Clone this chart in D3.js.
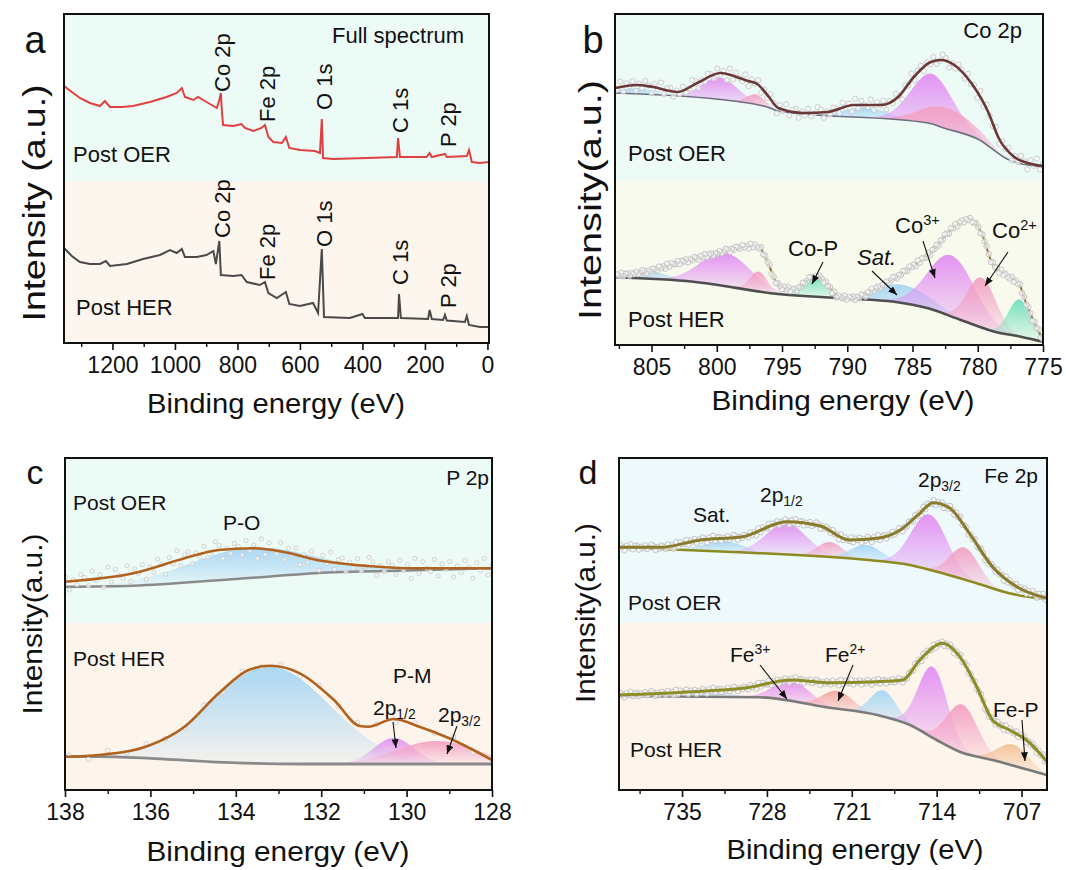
<!DOCTYPE html>
<html lang="en">
<head>
<meta charset="utf-8">
<title>XPS spectra post OER / post HER</title>
<style>
  body { margin: 0; background: #fff; }
  svg text { font-family: "Liberation Sans", Arial, sans-serif; fill: #111; }
</style>
</head>
<body>
<div id="chart"></div>
<script src="https://d3js.org/d3.v7.min.js"></script>
<script>
// ---------- data: binding energy (eV), intensity (a.u.) ----------

// (a) survey
var surveyMajor = [1200, 1000, 800, 600, 400, 200, 0];
var surveyMinor = [1300, 1100, 900, 700, 500, 300, 100];
var surveyOER = [[1355,257],[1330,251],[1304,245],[1272,240],[1240,237],[1224,242],[1208,236],[1170,236],[1134,237],
  [1080,241],[1027,246],[994,250],[978,255],[968,246],[941,243],[926,246],[899,241],[877,237],[866,235],[858,243],
  [853,250],[850,233],[846,218],[813,217],[787,219],[776,215],[749,212],[723,215],[712,218],[701,206],[685,201],
  [658,200],[645,206],[634,195],[600,193],[552,192],[536,190],[530,224],[526,185],[494,184],[386,185],[290,186],
  [286,205],[280,186],[195,186],[185,190],[178,186],[136,189],[130,186],[66,187],[59,193],[50,181],[24,180],[-5,181]];
var surveyHER = [[1355,95],[1330,87],[1304,81],[1272,79],[1240,79],[1221,82],[1208,77],[1154,79],[1102,84],[1048,88],
  [1016,93],[994,90],[978,94],[968,86],[930,86],[899,88],[877,92],[869,79],[858,102],[853,68],[813,67],[787,68],
  [770,61],[728,58],[712,61],[701,50],[674,45],[645,51],[634,39],[600,37],[558,40],[542,30],[530,94],[523,26],
  [440,25],[400,29],[392,25],[286,25],[283,49],[277,25],[190,24],[185,33],[178,24],[142,23],[136,28],[130,22.5],
  [72,21],[66,27],[59,18],[24,16],[-5,16]];
var surveyLines = ["Co 2p", "Fe 2p", "O 1s", "C 1s", "P 2p"];
var surveyLineEnergy = [855, 711, 531, 285, 133];

// (b) Co 2p
var coMajor = [805, 800, 795, 790, 785, 780, 775];
var coMinor = [807.5, 802.5, 797.5, 792.5, 787.5, 782.5, 777.5];
var coBgOER = [[807.8,252],[798.7,244],[795.9,237],[795.3,234],[783.8,222],[782.6,217],[780,206],[777.6,185],[775,178]];
var coEnvOER = [[807.8,257],[806.1,260],[804.9,258],[803,253],[801.5,262],[799.7,272],[798.7,269],[797.6,264],
  [796.9,261],[796,248],[795.3,237],[793.3,232],[791.5,233],[789.5,240],[787.4,240],[786.1,248],[784.9,268],
  [783.6,283],[782.8,285],[781.8,280],[780.5,262],[779.2,233],[778.4,207],[777.2,188],[776.2,182],[775,179]];
var coPeaksOER = [[806.0,6,3.0],[799.8,22,3.2],[797.0,10,1.6],[788.6,10,4.0],[783.5,50,3.8],[782.3,21,4.6]];
var coColorsOER = ["blue","magenta","pink","blue","magenta","pink"];
var coBgHER = [[807.8,67.7],[801.8,63.3],[795.3,51],[790.3,46.7],[786.4,43.3],[783.8,36.7],[781.3,25],[778.7,13.3],[776.7,8.3],[775,3.3]];
var coEnvHER = [[807.8,69],[805.6,73],[803,82],[800.5,90],[797.2,99],[796.7,97],[796.1,83],[795.3,60],[794.1,55],
  [793,65],[792.4,69],[791.5,60],[790.7,48],[789.5,47],[787.7,57],[785.1,78],[783.8,90],[781.8,118],[780.7,125.7],
  [779.7,111.7],[778.9,82],[777.9,70],[776.8,60],[776.3,42],[775.5,18],[775,5]];
var coPeaksHER = [[805.5,8,4.0],[799.3,33,4.5],[796.8,20,1.6],[792.6,20,2.0],[785.8,18,5.0],[782.0,61,4.2],[779.7,50,2.6],[776.8,37,2.0]];
var coColorsHER = ["blue","magenta","pink","green","blue","magenta","pink","green"];

// (c) P 2p
var pMajor = [138, 136, 134, 132, 130, 128];
var pMinor = [137, 135, 133, 131, 129];
var pBgOER = [[138,203.3],[136.4,204.3],[134.1,210.7],[131.7,217.7],[130.2,219.3],[128,221.7]];
var pEnvOER = [[138,208.3],[136.4,216.7],[135.2,231.7],[134.4,240],[133.6,241.7],[132.9,238.3],[132.1,230],[130.9,224],[129.8,221.7],[128,221.7]];
var pPeaksOER = [[133.7,30,3.4]];
var pColorsOER = ["blue"];
var pBgHER = [[138,33.3],[137.2,33.3],[135.6,30.7],[134.1,27.3],[132.5,26],[128,26]];
var pEnvHER = [[138,33.3],[137.2,35],[136,45],[135.2,63.3],[134.4,96.7],[133.7,120],[133.2,124.3],[132.5,116.7],
  [131.7,90],[131.1,64],[130.9,63.3],[130.3,71],[129.7,63.3],[129,51.7],[128,30]];
var pPeaksHER = [[133.2,97,3.3],[130.3,26,1.1],[129.3,23,2.2]];
var pColorsHER = ["blue","magenta","pink"];

// (d) Fe 2p
var feMajor = [735, 728, 721, 714, 707];
var feMinor = [738.5, 731.5, 724.5, 717.5, 710.5];
var feBgOER = [[740.2,242.7],[731.3,238.3],[720.3,230.7],[716.2,225],[713.5,216.7],[710.7,206.7],[708,196.7],[704.9,190.7]];
var feEnvOER = [[740.2,242.7],[736.8,242.7],[733.5,250],[730,253.3],[726.4,268.3],[723.6,264],[721.2,250],[718.9,251.7],
  [717,260],[715.4,276.7],[714.3,287.3],[712.9,281.7],[711.3,256.7],[709.4,223.3],[707.4,203.3],[704.9,191.7]];
var fePeaksOER = [[731.5,10,4.0],[726.4,31,4.0],[722.8,15,2.5],[719.8,15,3.0],[714.6,55,3.5],[711.7,32,2.8]];
var feColorsOER = ["blue","magenta","pink","blue","magenta","pink"];
var feBgHER = [[740.2,94],[728.6,92.7],[723.1,82.7],[718.9,75],[716.2,65],[714,50],[712.1,38.3],[709.4,30],[704.9,15]];
var feEnvHER = [[740.2,95],[734.1,98.3],[730,101.7],[725.9,110],[723.1,107.3],[718.9,108.3],[716.8,110],[715.4,130],
  [713.5,146.7],[712.1,133.3],[710.7,103.3],[709.4,70],[708,60],[706.6,50],[704.9,28.3]];
var fePeaksHER = [[732.7,5,4.0],[725.9,20,3.5],[722.2,18,3.0],[718.4,26,2.5],[714.3,71,2.8],[711.9,48,3.0],[707.7,21,3.0]];
var feColorsHER = ["blue","magenta","salmon","blue","magenta","pink","orange"];

// scatter of the raw counts around the fit (read roughly, in units of each panel's spread)
var dotJitter = [0.3,-0.6,0.9,-0.2,0.5,-0.9,0.1,0.7,-0.4,0.2,-0.8,0.6,-0.1,0.4,-0.7,0.8,-0.3,0.0,0.6,-0.5,
  0.9,-0.9,0.3,-0.2,0.7,-0.6,0.2,0.5,-0.4,0.1,-0.8,0.4,0.8,-0.1,-0.5,0.6,-0.3,0.2,-0.7,0.5];

// ---------- styles ----------
var peakColors = {magenta:"#e28ef2", pink:"#f3a0c2", blue:"#a6d5f4", green:"#6fdfbd", salmon:"#f3a7a5", orange:"#f2c198"};

var svg = d3.select("#chart").append("svg").attr("width", 1066).attr("height", 870);
var defs = svg.append("defs");

Object.keys(peakColors).forEach(function(k) {
  var gr = defs.append("linearGradient").attr("id", "grad-" + k)
    .attr("x1", 0).attr("y1", 0).attr("x2", 0).attr("y2", 1);
  gr.append("stop").attr("offset", "0%").attr("stop-color", peakColors[k]).attr("stop-opacity", 0.95);
  gr.append("stop").attr("offset", "100%").attr("stop-color", peakColors[k]).attr("stop-opacity", 0.1);
});

defs.append("marker").attr("id", "arrow").attr("viewBox", "0 0 10 8")
  .attr("refX", 10).attr("refY", 4).attr("markerWidth", 9).attr("markerHeight", 7)
  .attr("markerUnits", "userSpaceOnUse").attr("orient", "auto")
  .append("path").attr("d", "M0,0 L10,4 L0,8 Z").attr("fill", "#111");

// monotone cubic through read-off points, used for baselines under the fitted peaks
function smoothInterp(pts) {
  var p = pts.slice().sort(function(a, b) { return a[0] - b[0]; });
  var n = p.length, xs = p.map(function(d) { return d[0]; }), ys = p.map(function(d) { return d[1]; });
  var dx = [], m = [], t = [];
  for (var i = 0; i < n - 1; i++) { dx[i] = xs[i+1] - xs[i]; m[i] = (ys[i+1] - ys[i]) / dx[i]; }
  t[0] = m[0]; t[n-1] = m[n-2];
  for (var j = 1; j < n - 1; j++) {
    if (m[j-1] * m[j] <= 0) t[j] = 0;
    else { var w1 = 2*dx[j] + dx[j-1], w2 = dx[j] + 2*dx[j-1]; t[j] = (w1 + w2) / (w1/m[j-1] + w2/m[j]); }
  }
  return function(x) {
    if (x <= xs[0]) return ys[0];
    if (x >= xs[n-1]) return ys[n-1];
    var k = d3.bisectRight(xs, x) - 1, h = dx[k], s = (x - xs[k]) / h;
    return (1+2*s)*(1-s)*(1-s)*ys[k] + s*(1-s)*(1-s)*h*t[k] + s*s*(3-2*s)*ys[k+1] + s*s*(s-1)*h*t[k+1];
  };
}

function gauss(pk, e) {
  return pk[1] * Math.exp(-4 * Math.LN2 * (e - pk[0]) * (e - pk[0]) / (pk[2] * pk[2]));
}

function setupPanel(p, id) {
  var x = d3.scaleLinear().domain(p.domain).range([p.x0, p.x1]);
  var y = d3.scaleLinear().domain([0, p.y1 - p.y0]).range([p.y1, p.y0]);
  svg.append("rect").attr("x", p.x0).attr("y", p.y0).attr("width", p.x1 - p.x0).attr("height", p.split - p.y0).attr("fill", p.top);
  svg.append("rect").attr("x", p.x0).attr("y", p.split).attr("width", p.x1 - p.x0).attr("height", p.y1 - p.split).attr("fill", p.bottom);
  defs.append("clipPath").attr("id", "clip-" + id).append("rect")
    .attr("x", p.x0).attr("y", p.y0).attr("width", p.x1 - p.x0).attr("height", p.y1 - p.y0);
  var g = svg.append("g").attr("clip-path", "url(#clip-" + id + ")");
  return {x: x, y: y, g: g};
}

function finishPanel(p, sc, major, minor) {
  svg.append("rect").attr("x", p.x0).attr("y", p.y0).attr("width", p.x1 - p.x0).attr("height", p.y1 - p.y0)
    .attr("fill", "none").attr("stroke", "#111").attr("stroke-width", 2);
  var ax = svg.append("g").attr("transform", "translate(0," + p.y1 + ")")
    .call(d3.axisBottom(sc.x).tickValues(major).tickSize(7).tickSizeOuter(0).tickPadding(7).tickFormat(d3.format("d")));
  ax.select(".domain").remove();
  ax.selectAll("line").attr("stroke", "#111").attr("stroke-width", 1.6);
  ax.selectAll("text").attr("font-size", 23).attr("font-family", "Liberation Sans, Arial, sans-serif").attr("fill", "#111");
  var mi = svg.append("g").attr("transform", "translate(0," + p.y1 + ")")
    .call(d3.axisBottom(sc.x).tickValues(minor).tickSize(4).tickSizeOuter(0).tickFormat(""));
  mi.select(".domain").remove();
  mi.selectAll("line").attr("stroke", "#111").attr("stroke-width", 1.4);
  svg.append("text").attr("x", p.xt[0]).attr("y", p.xt[1]).attr("text-anchor", "middle")
    .attr("font-size", p.xt[3]).attr("textLength", p.xt[2]).attr("lengthAdjust", "spacingAndGlyphs")
    .text("Binding energy (eV)");
  svg.append("text").attr("transform", "translate(" + p.yt[0] + "," + p.yt[1] + ") rotate(-90)")
    .attr("text-anchor", "middle").attr("font-size", p.yt[3]).attr("textLength", p.yt[2])
    .attr("lengthAdjust", "spacingAndGlyphs").text(p.ytitle);
  svg.append("text").attr("x", p.letter[0]).attr("y", p.letter[1]).attr("text-anchor", "middle")
    .attr("font-size", p.letter[2]).text(p.name);
}

function drawTrace(sc, t, s) {
  var bgF = smoothInterp(t.bg), envF = smoothInterp(t.env);
  var dom = sc.x.domain(), lo = Math.min(dom[0], dom[1]), hi = Math.max(dom[0], dom[1]);
  var xs = d3.range(0, 601).map(function(i) { return lo + (hi - lo) * i / 600; });
  t.peaks.forEach(function(pk, i) {
    var pts = xs.map(function(e) { return [e, bgF(e), gauss(pk, e)]; });
    var area = d3.area().defined(function(d) { return d[2] > 0.3; })
      .x(function(d) { return sc.x(d[0]); })
      .y0(function(d) { return sc.y(d[1]); })
      .y1(function(d) { return sc.y(d[1] + d[2]); });
    sc.g.append("path").attr("d", area(pts)).attr("fill", "url(#grad-" + t.colors[i] + ")");
  });
  var line = d3.line().curve(d3.curveMonotoneX)
    .x(function(d) { return sc.x(d[0]); }).y(function(d) { return sc.y(d[1]); });
  sc.g.append("path").attr("d", line(t.bg)).attr("fill", "none")
    .attr("stroke", s.bgColor).attr("stroke-width", s.bgWidth);
  var dots = d3.range(lo, hi, s.dotStep).map(function(e, k) {
    return [e, envF(e) + dotJitter[k % dotJitter.length] * s.dotAmp];
  });
  var drawDots = function() {
    sc.g.append("g").selectAll("circle").data(dots).enter().append("circle")
      .attr("cx", function(d) { return sc.x(d[0]); }).attr("cy", function(d) { return sc.y(d[1]); })
      .attr("r", s.dotR).attr("fill", "#f8f8f8").attr("fill-opacity", 0.7)
      .attr("stroke", s.dotStroke || "#bdbdbd").attr("stroke-width", 0.9);
  };
  if (!s.dotsOnTop) drawDots();
  sc.g.append("path").attr("d", line(t.env)).attr("fill", "none")
    .attr("stroke", s.envColor).attr("stroke-width", s.envWidth);
  if (s.dotsOnTop) drawDots();
}

function richText(x, y, parts, size, anchor, italic) {
  var t = svg.append("text").attr("x", x).attr("y", y).attr("font-size", size)
    .attr("text-anchor", anchor || "start");
  if (italic) t.attr("font-style", "italic");
  parts.forEach(function(pt) {
    if (typeof pt === "string") { t.append("tspan").text(pt); return; }
    t.append("tspan").attr("font-size", "66%")
      .attr("baseline-shift", pt.sup ? "55%" : "-28%").text(pt.t);
  });
}

function arrow(a) {
  svg.append("line").attr("x1", a[0]).attr("y1", a[1]).attr("x2", a[2]).attr("y2", a[3])
    .attr("stroke", "#111").attr("stroke-width", 1.1).attr("marker-end", "url(#arrow)");
}

// ---------- layout ----------
var panelA = {name:"a", x0:64, x1:489, y0:14, y1:343, split:181, domain:[1355, -5], top:"#edfbf7", bottom:"#fdf6ee",
  xt:[276, 413, 258, 27], yt:[45, 203, 237, 31], ytitle:"Intensity (a.u.)", letter:[35, 53, 38]};
var panelB = {name:"b", x0:615, x1:1043, y0:14, y1:345, split:181, domain:[807.8, 775], top:"#edfbf7", bottom:"#f8faee",
  xt:[843, 410, 263, 27], yt:[601, 200, 240, 31], ytitle:"Intensity(a.u.)", letter:[593, 53, 38]};
var panelC = {name:"c", x0:65, x1:492, y0:458, y1:790, split:623, domain:[138, 128], top:"#edfbf7", bottom:"#fdf5ec",
  xt:[278, 861, 263, 27], yt:[42, 624, 181, 28], ytitle:"Intensity(a.u.)", letter:[35, 484, 34]};
var panelD = {name:"d", x0:619, x1:1047, y0:458, y1:790, split:623, domain:[740.2, 704.9], top:"#edf9fb", bottom:"#fdf5eb",
  xt:[855, 859, 257, 27], yt:[595, 613, 180, 28], ytitle:"Intensity(a.u.)", letter:[588, 484, 34]};

// ---------- (a) ----------
var sa = setupPanel(panelA, "a");
var surveyLine = d3.line().x(function(d) { return sa.x(d[0]); }).y(function(d) { return sa.y(d[1]); });
sa.g.append("path").attr("d", surveyLine(surveyOER)).attr("fill", "none").attr("stroke", "#e0403f").attr("stroke-width", 2);
sa.g.append("path").attr("d", surveyLine(surveyHER)).attr("fill", "none").attr("stroke", "#4a4a4a").attr("stroke-width", 2);
finishPanel(panelA, sa, surveyMajor, surveyMinor);
var labelBottomOER = [92, 122, 110, 133, 147], labelBottomHER = [238, 280, 247, 285, 308];
surveyLines.forEach(function(name, i) {
  [labelBottomOER[i], labelBottomHER[i]].forEach(function(yb) {
    svg.append("text").attr("transform", "translate(" + (sa.x(surveyLineEnergy[i]) + 10) + "," + yb + ") rotate(-90)")
      .attr("font-size", 22).text(name);
  });
});
richText(332, 43, ["Full spectrum"], 22);
richText(73, 162, ["Post OER"], 22);
richText(76, 315, ["Post HER"], 22);

// ---------- (b) ----------
var sb = setupPanel(panelB, "b");
drawTrace(sb, {bg: coBgOER, env: coEnvOER, peaks: coPeaksOER, colors: coColorsOER},
  {bgColor:"#6d6d7e", bgWidth:1.6, envColor:"#6b3838", envWidth:2.6, dotStep:0.24, dotAmp:7, dotR:2.6, dotStroke:"#c6c6c6"});
drawTrace(sb, {bg: coBgHER, env: coEnvHER, peaks: coPeaksHER, colors: coColorsHER},
  {bgColor:"#4e4e4e", bgWidth:2.6, envColor:"#8a6a28", envWidth:2, dotStep:0.16, dotAmp:2.5, dotR:2.7, dotsOnTop:true});
finishPanel(panelB, sb, coMajor, coMinor);
richText(1022, 38, ["Co 2p"], 22, "end");
richText(628, 161, ["Post OER"], 22);
richText(628, 327, ["Post HER"], 22);
richText(788, 256, ["Co-P"], 22);
richText(857, 265, ["Sat."], 22, "start", true);
richText(895, 233, ["Co", {t:"3+", sup:true}], 22);
richText(992, 238, ["Co", {t:"2+", sup:true}], 22);
[[823,262,812,284],[872,271,897,295],[923,241,935,278],[1008,252,985,286]].forEach(arrow);

// ---------- (c) ----------
var scc = setupPanel(panelC, "c");
drawTrace(scc, {bg: pBgOER, env: pEnvOER, peaks: pPeaksOER, colors: pColorsOER},
  {bgColor:"#8a8a8a", bgWidth:2.5, envColor:"#b2621f", envWidth:2.6, dotStep:0.09, dotAmp:11, dotR:2.1, dotStroke:"#cccccc"});
drawTrace(scc, {bg: pBgHER, env: pEnvHER, peaks: pPeaksHER, colors: pColorsHER},
  {bgColor:"#8a8a8a", bgWidth:2.8, envColor:"#b2621f", envWidth:2.6, dotStep:0.45, dotAmp:4, dotR:2.3, dotStroke:"#cccccc"});
finishPanel(panelC, scc, pMajor, pMinor);
richText(489, 485, ["P 2p"], 21, "end");
richText(73, 510, ["Post OER"], 21);
richText(223, 530, ["P-O"], 21);
richText(73, 666, ["Post HER"], 21);
richText(393, 683, ["P-M"], 21);
richText(373, 715, ["2p", {t:"1/2"}], 21);
richText(438, 722, ["2p", {t:"3/2"}], 21);
[[393,722,396,748],[457,726,447,754]].forEach(arrow);

// ---------- (d) ----------
var sd = setupPanel(panelD, "d");
drawTrace(sd, {bg: feBgOER, env: feEnvOER, peaks: fePeaksOER, colors: feColorsOER},
  {bgColor:"#8c8a20", bgWidth:2.5, envColor:"#8a7a2c", envWidth:3, dotStep:0.17, dotAmp:3.5, dotR:2.6});
drawTrace(sd, {bg: feBgHER, env: feEnvHER, peaks: fePeaksHER, colors: feColorsHER},
  {bgColor:"#7a7a7a", bgWidth:2.6, envColor:"#8e8e28", envWidth:3, dotStep:0.17, dotAmp:3, dotR:2.7});
finishPanel(panelD, sd, feMajor, feMinor);
richText(1038, 483, ["Fe 2p"], 21, "end");
richText(918, 487, ["2p", {t:"3/2"}], 21);
richText(760, 502, ["2p", {t:"1/2"}], 21);
richText(693, 522, ["Sat."], 21);
richText(628, 610, ["Post OER"], 21);
richText(730, 662, ["Fe", {t:"3+", sup:true}], 21);
richText(825, 662, ["Fe", {t:"2+", sup:true}], 21);
richText(993, 717, ["Fe-P"], 21);
richText(630, 757, ["Post HER"], 21);
[[760,665,787,699],[853,665,838,701],[1022,720,1025,761]].forEach(arrow);
</script>
</body>
</html>
